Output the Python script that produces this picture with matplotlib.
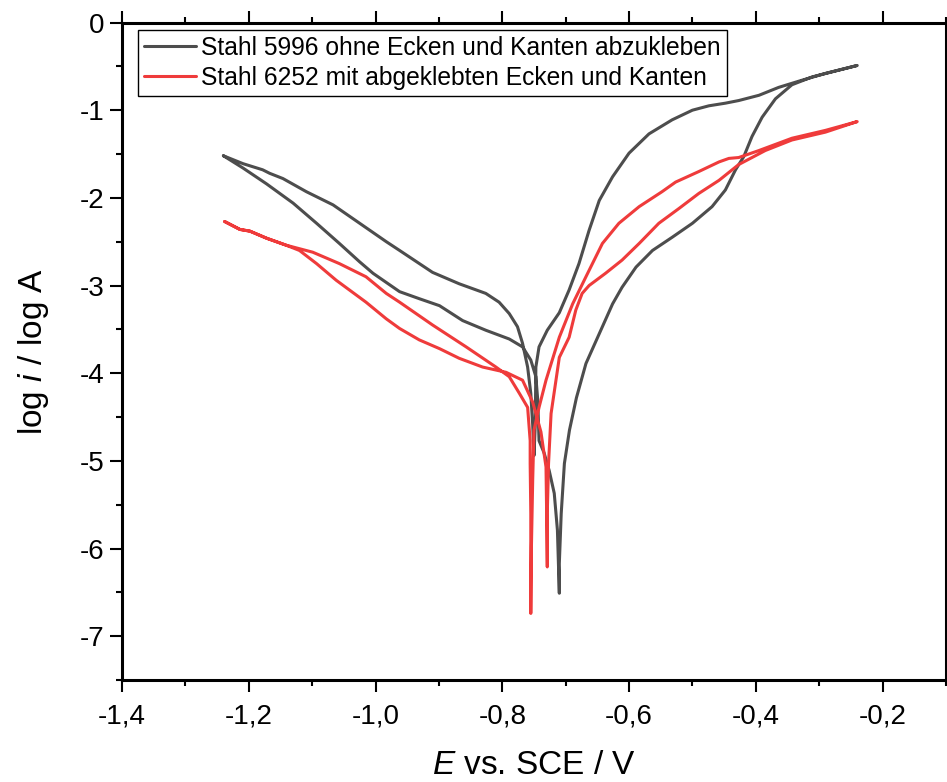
import numpy as np
import matplotlib
matplotlib.use('Agg')
import matplotlib.pyplot as plt
from matplotlib.ticker import MultipleLocator, FuncFormatter

plt.rcParams['font.family'] = ['Liberation Sans', 'DejaVu Sans']
plt.rcParams['mathtext.fontset'] = 'custom'
plt.rcParams['mathtext.rm'] = 'Liberation Sans'
plt.rcParams['mathtext.it'] = 'Liberation Sans:italic'

# --- Stahl 5996 (grey), one loop split in four branches
g_cath1_E = [-1.240, -1.209, -1.178, -1.167, -1.146, -1.109, -1.067, -1.025, -0.983, -0.962,
             -0.910, -0.868, -0.826, -0.805, -0.789, -0.776, -0.768, -0.760, -0.755, -0.752, -0.750]
g_cath1_L = [-1.52, -1.61, -1.68, -1.72, -1.78, -1.93, -2.08, -2.29, -2.50, -2.60,
             -2.85, -2.98, -3.09, -3.19, -3.32, -3.47, -3.66, -3.93, -4.23, -4.59, -4.94]
g_anod1_E = [-0.748, -0.747, -0.742, -0.729, -0.710, -0.6945, -0.679, -0.663, -0.647, -0.626,
             -0.600, -0.5685, -0.532, -0.500, -0.474, -0.448, -0.427, -0.395, -0.364, -0.328,
             -0.290, -0.240]
g_anod1_L = [-4.60, -3.93, -3.70, -3.51, -3.31, -3.05, -2.75, -2.37, -2.03, -1.76,
             -1.49, -1.27, -1.11, -1.00, -0.95, -0.92, -0.89, -0.83, -0.74, -0.66,
             -0.58, -0.49]
g_anod2_E = [-0.311, -0.343, -0.369, -0.390, -0.406, -0.419, -0.432, -0.448, -0.469, -0.500,
             -0.532, -0.563, -0.589, -0.611, -0.626, -0.647, -0.668, -0.683, -0.694, -0.702,
             -0.707, -0.710, -0.710]
g_anod2_L = [-0.62, -0.71, -0.87, -1.08, -1.30, -1.53, -1.68, -1.91, -2.10, -2.29,
             -2.45, -2.60, -2.79, -3.02, -3.21, -3.55, -3.89, -4.28, -4.65, -5.03,
             -5.60, -6.17, -6.51]
g_cath2_E = [-0.713, -0.718, -0.726, -0.734, -0.742, -0.744, -0.747, -0.755, -0.768, -0.789,
             -0.826, -0.8625, -0.899, -0.931, -0.962, -1.004, -1.025, -1.057, -1.093, -1.130,
             -1.172, -1.209, -1.240]
g_cath2_L = [-5.79, -5.37, -5.11, -4.91, -4.77, -4.31, -4.04, -3.85, -3.70, -3.61,
             -3.51, -3.40, -3.23, -3.15, -3.07, -2.86, -2.73, -2.52, -2.29, -2.06,
             -1.84, -1.66, -1.52]

# --- Stahl 6252 (red)
r_cath1_E = [-1.238, -1.214, -1.198, -1.172, -1.141, -1.120, -1.099, -1.057, -1.015, -0.983,
             -0.962, -0.910, -0.857, -0.810, -0.789, -0.773, -0.760, -0.756, -0.756, -0.755, -0.755]
r_cath1_L = [-2.27, -2.36, -2.38, -2.46, -2.54, -2.58, -2.62, -2.75, -2.90, -3.09,
             -3.19, -3.45, -3.70, -3.93, -4.04, -4.23, -4.39, -4.77, -5.03, -5.60, -6.74]
r_anod1_E = [-0.754, -0.752, -0.750, -0.742, -0.731, -0.710, -0.689, -0.668, -0.642, -0.616,
             -0.584, -0.548, -0.5265, -0.490, -0.458, -0.4425, -0.427, -0.395, -0.343, -0.290, -0.240]
r_anod1_L = [-5.98, -5.22, -4.65, -4.39, -4.08, -3.59, -3.21, -2.90, -2.52, -2.29,
             -2.10, -1.93, -1.82, -1.70, -1.59, -1.55, -1.54, -1.46, -1.32, -1.23, -1.13]
r_anod2_E = [-0.290, -0.343, -0.385, -0.427, -0.458, -0.490, -0.521, -0.553, -0.584, -0.611,
             -0.637, -0.663, -0.674, -0.684, -0.6945, -0.710, -0.723, -0.727, -0.729, -0.729]
r_anod2_L = [-1.25, -1.34, -1.46, -1.62, -1.80, -1.95, -2.12, -2.29, -2.52, -2.71,
             -2.86, -3.00, -3.09, -3.28, -3.59, -3.82, -4.46, -5.03, -5.60, -6.21]
r_cath2_E = [-0.730, -0.731, -0.739, -0.744, -0.752, -0.768, -0.794, -0.831, -0.868, -0.899,
             -0.931, -0.962, -0.983, -1.015, -1.062, -1.093, -1.120, -1.141, -1.172, -1.198,
             -1.214, -1.238]
r_cath2_L = [-5.60, -5.07, -4.67, -4.54, -4.33, -4.08, -3.99, -3.93, -3.83, -3.72,
             -3.62, -3.49, -3.38, -3.19, -2.94, -2.75, -2.60, -2.54, -2.46, -2.38,
             -2.36, -2.27]

labels = ['Stahl 5996 ohne Ecken und Kanten abzukleben',
          'Stahl 6252 mit abgeklebten Ecken und Kanten']
colors = ['#4d4d4d', '#ef3b3b']

grey_E = np.concatenate([g_cath1_E, g_anod1_E, g_anod2_E, g_cath2_E])
grey_L = np.concatenate([g_cath1_L, g_anod1_L, g_anod2_L, g_cath2_L])
red_E = np.concatenate([r_cath1_E, r_anod1_E, r_anod2_E, r_cath2_E])
red_L = np.concatenate([r_cath1_L, r_anod1_L, r_anod2_L, r_cath2_L])

fig = plt.figure(figsize=(9.47, 7.82), dpi=100)
ax = fig.add_axes([0.1288, 0.1304, 0.8701, 0.8408])

for E, L, c, lab in [(grey_E, grey_L, colors[0], labels[0]), (red_E, red_L, colors[1], labels[1])]:
    ax.plot(E, L, color=c, lw=2.2, solid_joinstyle='round', solid_capstyle='round', label=lab)

ax.set_xlim(-1.4, -0.1)
ax.set_ylim(-7.5, 0)

ax.xaxis.set_major_locator(MultipleLocator(0.2))
ax.xaxis.set_minor_locator(MultipleLocator(0.1))
ax.yaxis.set_major_locator(MultipleLocator(1))
ax.yaxis.set_minor_locator(MultipleLocator(0.5))
ax.xaxis.set_major_formatter(FuncFormatter(lambda v, p: f'{v:.1f}'.replace('.', ',')))
ax.yaxis.set_major_formatter(FuncFormatter(lambda v, p: f'{v:.0f}'))

ax.tick_params(which='both', direction='out', top=True, right=False, width=1.5, labelsize=20)
ax.tick_params(which='major', length=8.6)
ax.tick_params(which='minor', length=4.3)
ax.tick_params(axis='x', pad=8)
ax.tick_params(axis='y', pad=4)
for s in ax.spines.values():
    s.set_linewidth(2.2)

ax.set_xlabel(r'$\mathit{E}$ vs. SCE / V', fontsize=24, labelpad=15)
ax.set_ylabel(r'log $\mathit{i}$ / log A', fontsize=24, labelpad=21)

leg = ax.legend(loc='upper left', bbox_to_anchor=(0.0194, 0.989), fontsize=17.7, fancybox=False,
                edgecolor='black', framealpha=1, borderaxespad=0, handlelength=2.1,
                handletextpad=0.22, labelspacing=0.25, borderpad=0.25)
leg.get_frame().set_linewidth(1.0)

fig.savefig('out.png', dpi=100)
